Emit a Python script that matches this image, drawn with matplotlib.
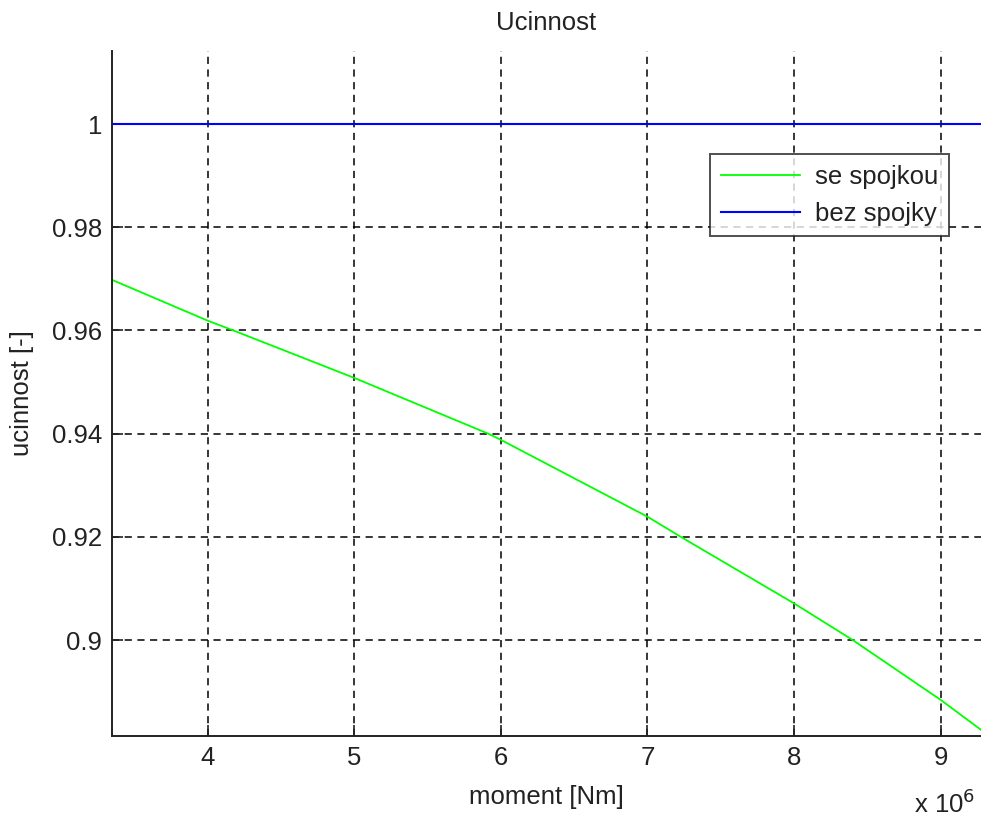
import matplotlib
matplotlib.use("Agg")
import matplotlib.pyplot as plt
from matplotlib.ticker import FuncFormatter, FixedLocator

FS = 18.5
plt.rcParams['font.family'] = ['Liberation Sans', 'DejaVu Sans']

# data (moment in Nm, efficiency in -)
moment = [3.348e6, 4.0e6, 4.175e6, 5.0e6, 5.913e6, 6.0e6, 7.0e6, 7.227e6,
          8.0e6, 8.40e6, 9.0e6, 9.275e6]
se_spojkou = [0.9698, 0.9619, 0.9600, 0.9508, 0.9400, 0.9388, 0.9239, 0.9200,
              0.9071, 0.9000, 0.8884, 0.8826]
bez_spojky = [1.0] * len(moment)

x_ticks = [4e6, 5e6, 6e6, 7e6, 8e6, 9e6]
y_ticks = [0.90, 0.92, 0.94, 0.96, 0.98, 1.00]
y_labels = ['0.9', '0.92', '0.94', '0.96', '0.98', '1']

W, H = 981, 818
fig = plt.figure(figsize=(W / 100, H / 100), dpi=100)
ax = fig.add_axes([112 / W, (H - 736) / H, (W - 112) / W, (736 - 51) / H])

ax.plot(moment, se_spojkou, color='#00ff00', lw=1.3, label='se spojkou')
ax.plot(moment, bez_spojky, color='#0000ff', lw=1.5, label='bez spojky')

ax.set_xlim(3.348e6, 9.275e6)
ax.set_ylim(0.8814, 1.01415)
ax.xaxis.set_major_locator(FixedLocator(x_ticks))
ax.yaxis.set_major_locator(FixedLocator(y_ticks))
ax.xaxis.set_major_formatter(FuncFormatter(lambda v, p: f'{v / 1e6:g}'))
ax.set_yticklabels(y_labels)

ax.grid(True, color='#000000', linestyle=(0, (4.7, 3.6)), linewidth=1.1)
ax.tick_params(direction='in', length=8, width=1.2, labelsize=FS, pad=7,
               colors='#222222')
for s in ['top', 'right']:
    ax.spines[s].set_visible(False)
for s in ['left', 'bottom']:
    ax.spines[s].set_linewidth(1.4)
    ax.spines[s].set_color('#222222')

ax.set_title('Ucinnost', fontsize=FS, pad=15, color='#222222')
ax.set_xlabel('moment [Nm]', fontsize=FS, labelpad=11, color='#222222')
ax.set_ylabel('ucinnost [-]', fontsize=FS, labelpad=13, color='#222222')
fig.text(975 / W, 1 - 804 / H, r'x 10$^6$', fontsize=FS, va='center', ha='right',
         color='#222222')

leg = ax.legend(loc='upper left',
                bbox_to_anchor=((710 - 112) / (W - 112), (736 - 154) / (736 - 51)),
                fontsize=FS, frameon=True, fancybox=False, edgecolor='#222222',
                handlelength=3.07, borderpad=0.42, labelspacing=0.5,
                handletextpad=0.6, borderaxespad=0)
leg.get_frame().set_linewidth(1.4)
for t in leg.get_texts():
    t.set_color('#222222')

fig.savefig('out.png', dpi=100)
